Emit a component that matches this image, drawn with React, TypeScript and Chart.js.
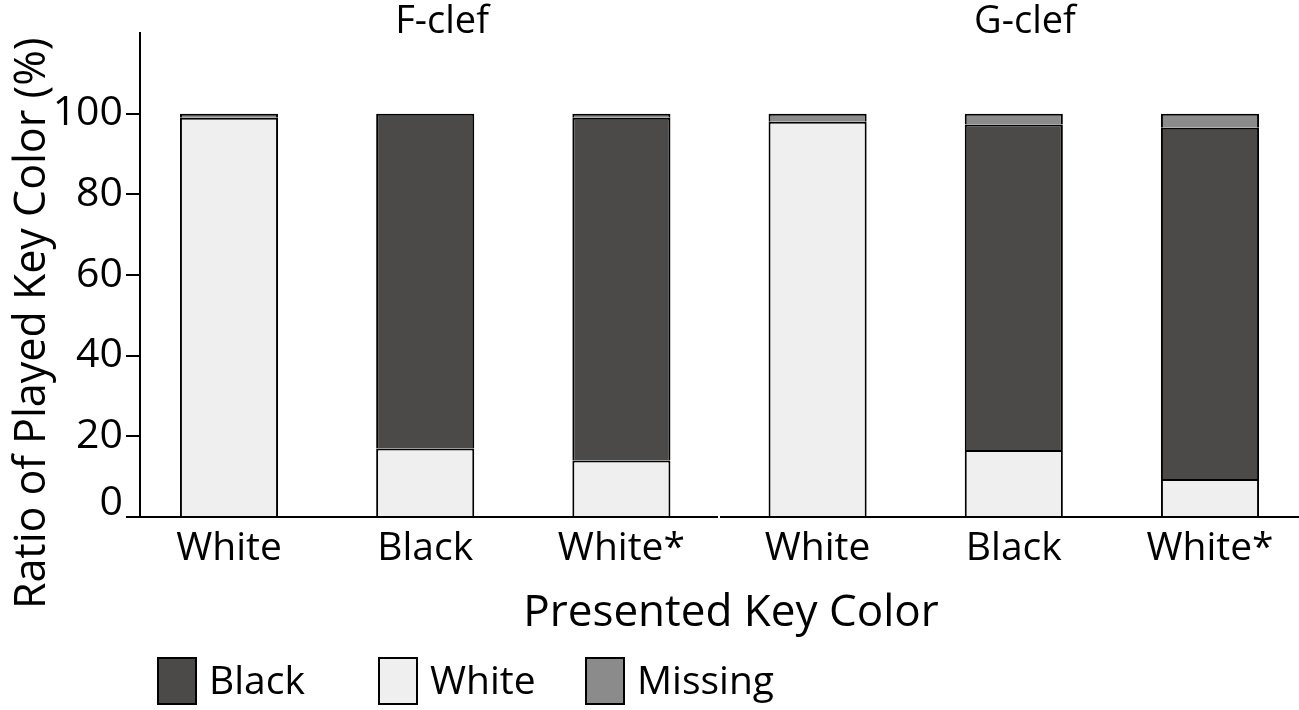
import React, { useEffect, useRef } from "react";
import { Chart, registerables } from "chart.js";

Chart.register(...registerables);

// ---- data ----
const categories = ["White", "Black", "White*", "White", "Black", "White*"];
const groupLabels = ["F-clef", "G-clef"];
const whiteValues = [99.0, 17.0, 14.0, 98.0, 16.6, 9.4];
const blackValues = [0, 83.0, 85.0, 0, 80.7, 87.1];
const missingValues = [1.0, 0, 1.0, 2.0, 2.7, 3.5];
const yTickValues = [0, 20, 40, 60, 80, 100];
const legendOrder = ["Black", "White", "Missing"];

const xAxisTitle = "Presented Key Color";
const yAxisTitle = "Ratio of Played Key Color (%)";

const FONT = "'Open Sans', sans-serif";
const COLORS: Record<string, string> = {
  White: "#efefef",
  Black: "#4b4a49",
  Missing: "#8b8b8b",
};

export default function App() {
  const ref = useRef<HTMLCanvasElement | null>(null);

  useEffect(() => {
    document.body.style.margin = "0";
    const canvas = ref.current;
    if (!canvas) return;

    const mk = (vals: number[]) => vals.map((v, i) => ({ x: i, y: v }));

    const overlay = {
      id: "overlay",
      afterDraw(chart: any) {
        const ctx = chart.ctx as CanvasRenderingContext2D;
        const xs = chart.scales.x;
        const ys = chart.scales.y;
        const area = chart.chartArea;
        ctx.save();
        // gap in x axis between the groups
        const gx = xs.getPixelForValue(2.5);
        ctx.fillStyle = "#ffffff";
        ctx.fillRect(gx - 1.5, area.bottom - 2, 2, 4);

        ctx.fillStyle = "#000";
        // group titles
        ctx.font = `38px ${FONT}`;
        ctx.textAlign = "center";
        ctx.textBaseline = "alphabetic";
        ctx.fillText(groupLabels[0], xs.getPixelForValue(1.086), 33);
        ctx.fillText(groupLabels[1], xs.getPixelForValue(4.057), 33);

        // x axis title
        ctx.font = `44px ${FONT}`;
        ctx.fillText(xAxisTitle, 731, 626);

        // y axis title
        ctx.save();
        ctx.font = `43px ${FONT}`;
        ctx.translate(45, ys.getPixelForValue(50) + 8);
        ctx.rotate(-Math.PI / 2);
        ctx.fillText(yAxisTitle, 0, 0);
        ctx.restore();

        // legend
        const lx = [157, 378, 585];
        ctx.font = `39px ${FONT}`;
        ctx.textAlign = "left";
        legendOrder.forEach((name, i) => {
          ctx.fillStyle = COLORS[name];
          ctx.fillRect(lx[i], 657, 40, 48);
          ctx.strokeStyle = "#000";
          ctx.lineWidth = 2;
          ctx.strokeRect(lx[i] + 1, 658, 38, 46);
          ctx.fillStyle = "#000";
          ctx.fillText(name, lx[i] + 52, 694);
        });
        ctx.restore();
      },
    };

    const ds = (label: string, vals: number[]) => ({
      label,
      data: mk(vals),
      backgroundColor: COLORS[label],
      borderColor: "#000",
      borderWidth: 2,
      categoryPercentage: 1,
      barPercentage: 0.5,
    });

    const chart = new Chart(canvas, {
      type: "bar",
      data: {
        datasets: [
          ds("White", whiteValues),
          ds("Black", blackValues),
          ds("Missing", missingValues),
        ] as any,
      },
      plugins: [overlay],
      options: {
        animation: false,
        responsive: false,
        events: [],
        layout: { padding: { top: 33, bottom: 133, left: 0, right: 0 } },
        plugins: {
          legend: { display: false },
          tooltip: { enabled: false },
          title: { display: false },
        },
        scales: {
          x: {
            type: "linear",
            stacked: true,
            offset: false,
            min: -0.4536,
            max: 5.4536,
            afterFit: (s: any) => {
              s.height = 60;
            },
            afterBuildTicks: (s: any) => {
              s.ticks = categories.map((_, i) => ({ value: i }));
            },
            grid: { display: false, drawTicks: false },
            border: { display: true, color: "#000", width: 2 },
            ticks: {
              autoSkip: false,
              maxRotation: 0,
              padding: 8,
              color: "#000",
              font: { family: FONT, size: 39 },
              callback: (v: any) => categories[v as number] ?? "",
            },
          },
          y: {
            stacked: true,
            min: 0,
            max: 120,
            afterFit: (s: any) => {
              s.width = 140;
            },
            afterBuildTicks: (s: any) => {
              s.ticks = yTickValues.map((v) => ({ value: v }));
            },
            grid: {
              display: true,
              drawOnChartArea: false,
              drawTicks: true,
              tickLength: 14,
              color: "#000",
              lineWidth: 2,
            },
            border: { display: true, color: "#000", width: 2 },
            ticks: {
              padding: 3,
              color: "#000",
              font: { family: FONT, size: 41, lineHeight: "28px" },
              callback: (v: any) => (v === 0 ? ["0", ""] : String(v)),
            },
          },
        },
      } as any,
    });

    return () => chart.destroy();
  }, []);

  return (
    <div>
      <canvas ref={ref} width={1299} height={710} style={{ display: "block" }} />
    </div>
  );
}
